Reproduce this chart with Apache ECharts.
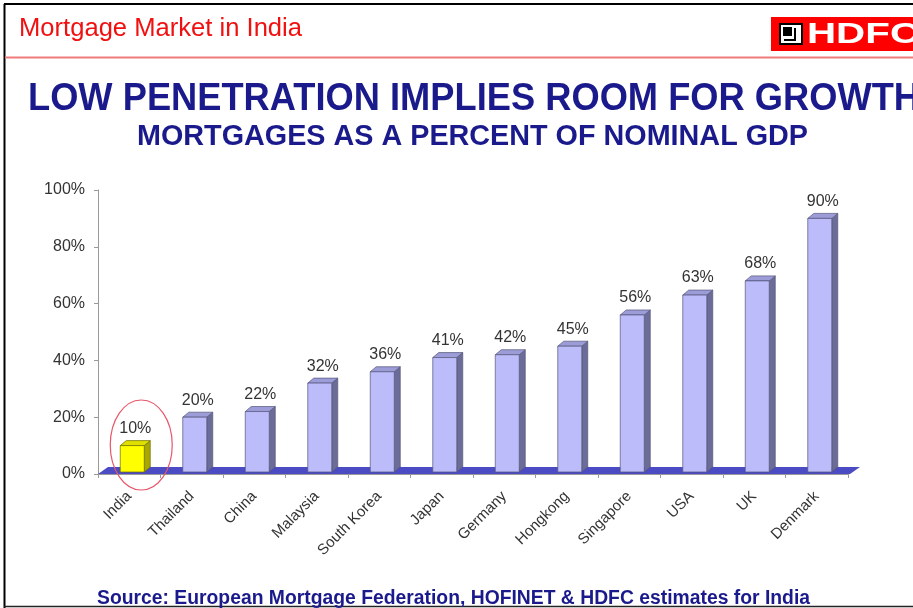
<!DOCTYPE html>
<html>
<head>
<meta charset="utf-8">
<script src="https://cdn.jsdelivr.net/npm/echarts@6/dist/echarts.min.js"></script>
<style>
  html, body { margin: 0; padding: 0; background: #fff; }
  #chart { width: 913px; height: 608px; }
</style>
</head>
<body>
<div id="chart"></div>
<script>
// data
var categories = ['India', 'Thailand', 'China', 'Malaysia', 'South Korea', 'Japan',
  'Germany', 'Hongkong', 'Singapore', 'USA', 'UK', 'Denmark']
var penetration = [10, 20, 22, 32, 36, 41, 42, 45, 56, 63, 68, 90]
var yTicks = [0, 20, 40, 60, 80, 100]
var highlightCategory = 'India'

var headerText = 'Mortgage Market in India'
var titleText = 'LOW PENETRATION IMPLIES ROOM FOR GROWTH'
var subtitleText = 'MORTGAGES AS A PERCENT OF NOMINAL GDP'
var sourceText = 'Source: European Mortgage Federation, HOFINET & HDFC estimates for India'

var navy = '#1a1a8c'
var fontFam = '"Liberation Sans", Arial, sans-serif'

// squeeze a text so that it fills the given width
var measureCtx = document.createElement('canvas').getContext('2d')
function fitScale(text, font, width) {
  measureCtx.font = font
  return width / measureCtx.measureText(text).width
}

// x = left edge, y = middle of the capitals
function textItem(text, font, color, x, y, width) {
  return {
    type: 'text',
    x: x,
    y: y,
    scaleX: width ? fitScale(text, font, width) : 1,
    style: {
      text: text,
      x: 0,
      y: 0,
      font: font,
      fill: color,
      textVerticalAlign: 'middle'
    }
  }
}

var myChart = echarts.init(document.getElementById('chart'))

// 3D bar: front face, side face, top face and the label above
function renderBar(params, api) {
  var idx = api.value(0)
  var val = api.value(1)
  var top = api.coord([idx, val])
  var base = api.coord([idx, 0])
  var w = 24
  var dx = 6
  var dy = 5
  var cx = top[0] + 3
  var x0 = cx - w / 2
  var x1 = cx + w / 2
  var y0 = top[1]
  var y1 = base[1] - 2
  var hi = categories[idx] === highlightCategory
  var front = hi ? '#ffff00' : '#bcbcfa'
  var side = hi ? '#a8a800' : '#6c6c98'
  var topc = hi ? '#dede00' : '#9c9cd8'
  var edge = hi ? '#6f6f00' : '#55557a'
  var children = [
    {
      type: 'polygon',
      shape: { points: [[x1, y0], [x1 + dx, y0 - dy], [x1 + dx, y1 - dy], [x1, y1]] },
      style: { fill: side, stroke: edge, lineWidth: 0.7 }
    },
    {
      type: 'polygon',
      shape: { points: [[x0, y0], [x0 + dx, y0 - dy], [x1 + dx, y0 - dy], [x1, y0]] },
      style: { fill: topc, stroke: edge, lineWidth: 0.7 }
    },
    {
      type: 'rect',
      shape: { x: x0, y: y0, width: w, height: y1 - y0 },
      style: { fill: front, stroke: edge, lineWidth: 0.7 }
    },
    {
      type: 'text',
      style: {
        text: val + '%',
        x: cx + 3,
        y: y0 - dy - 4,
        textAlign: 'center',
        textVerticalAlign: 'bottom',
        font: '16px ' + fontFam,
        fill: '#333'
      }
    }
  ]
  if (hi) {
    // red ring around the highlighted bar
    children.push({
      type: 'ellipse',
      shape: { cx: cx + 9, cy: base[1] - 29, rx: 31, ry: 45 },
      style: { fill: 'none', stroke: '#e8566a', lineWidth: 1.2 },
      z2: 10
    })
  }
  return { type: 'group', children: children }
}

// blue floor of the 3D plot
function renderFloor(params, api) {
  var cs = params.coordSys
  var yb = cs.y + cs.height
  return {
    type: 'polygon',
    shape: {
      points: [[cs.x, yb], [cs.x + 10, yb - 7], [cs.x + cs.width + 12, yb - 7], [cs.x + cs.width + 2, yb]]
    },
    style: { fill: '#4b4bc4' }
  }
}

myChart.setOption({
  backgroundColor: '#fff',
  animation: false,
  grid: {
    left: 98,
    right: 65,
    top: 190,
    bottom: 134
  },
  xAxis: {
    type: 'category',
    data: categories,
    boundaryGap: true,
    axisLine: { show: true, lineStyle: { color: '#9a9a9a', width: 1 } },
    axisTick: { show: true, length: 4, lineStyle: { color: '#9a9a9a' } },
    axisLabel: {
      rotate: 45,
      interval: 0,
      margin: 20,
      color: '#333',
      fontSize: 15,
      fontFamily: fontFam
    }
  },
  yAxis: {
    type: 'value',
    min: yTicks[0],
    max: yTicks[yTicks.length - 1],
    interval: yTicks[1] - yTicks[0],
    axisLine: { show: true, lineStyle: { color: '#9a9a9a', width: 1 } },
    axisTick: { show: true, length: 4, lineStyle: { color: '#9a9a9a' } },
    splitLine: { show: false },
    axisLabel: {
      formatter: '{value}%',
      margin: 13,
      color: '#333',
      fontSize: 16,
      fontFamily: fontFam
    }
  },
  series: [
    {
      type: 'custom',
      z: 1,
      silent: true,
      renderItem: renderFloor,
      data: [[0, 0]]
    },
    {
      type: 'custom',
      z: 2,
      renderItem: renderBar,
      encode: { x: 0, y: 1 },
      data: penetration.map(function (v, i) {
        return [i, v]
      })
    }
  ],
  graphic: [
    // slide frame
    { type: 'line', shape: { x1: 4, y1: 4, x2: 913, y2: 4 }, style: { stroke: '#000', lineWidth: 2 } },
    { type: 'line', shape: { x1: 4.5, y1: 4, x2: 4.5, y2: 608 }, style: { stroke: '#000', lineWidth: 2 } },
    { type: 'line', shape: { x1: 4, y1: 606.5, x2: 913, y2: 606.5 }, style: { stroke: '#222', lineWidth: 1.5 } },
    // header
    textItem(headerText, '25px ' + fontFam, '#f01010', 19, 29, 283),
    { type: 'line', shape: { x1: 5, y1: 57.5, x2: 913, y2: 57.5 }, style: { stroke: '#ef7a7a', lineWidth: 2 } },
    // HDFC logo
    { type: 'rect', shape: { x: 771, y: 17, width: 150, height: 34 }, style: { fill: '#ff0000' } },
    { type: 'rect', shape: { x: 780, y: 24, width: 22, height: 20 }, style: { fill: '#fff', stroke: '#000', lineWidth: 2 } },
    { type: 'rect', shape: { x: 783, y: 27, width: 9, height: 9 }, style: { fill: '#000' } },
    { type: 'polyline', shape: { points: [[795, 28], [795, 40], [784, 40]] }, style: { stroke: '#000', lineWidth: 2, fill: 'none' } },
    textItem('HDFC', 'bold 30px ' + fontFam, '#fff', 807, 35, 112),
    // titles
    textItem(titleText, 'bold 38px ' + fontFam, navy, 28, 100, 892),
    textItem(subtitleText, 'bold 29px ' + fontFam, navy, 137, 137, 671),
    // source
    textItem(sourceText, 'bold 20px ' + fontFam, navy, 97, 598, 713)
  ]
})
</script>
</body>
</html>
